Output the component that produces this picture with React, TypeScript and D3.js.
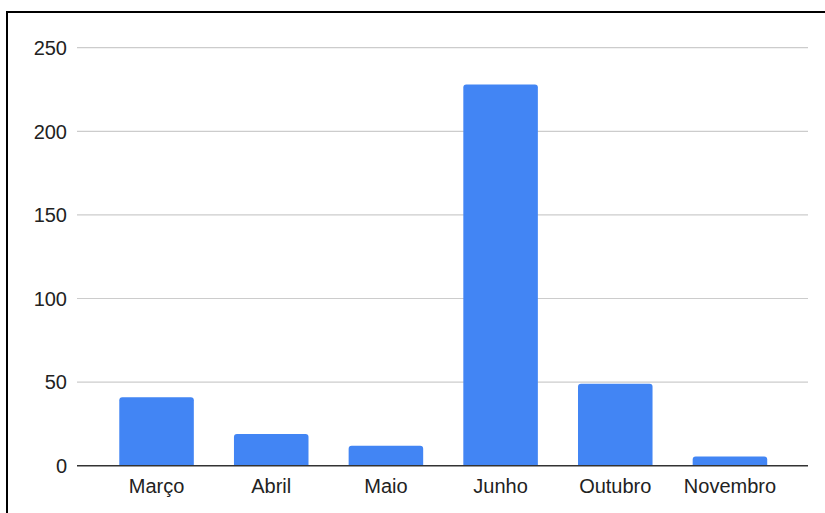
import React from "react";
import * as d3 from "d3";

const categories = ["Março", "Abril", "Maio", "Junho", "Outubro", "Novembro"];
const values = [41, 19, 12, 228, 49, 5.5];
const yTicks = [0, 50, 100, 150, 200, 250];

const W = 825;
const H = 513;
const left = 77;
const right = 808;
const top = 47.7;
const bottom = 465.7;

export default function App() {
  const x = d3
    .scaleBand<string>()
    .domain(categories)
    .range([left + 1, right + 0.5])
    .paddingInner(0.35)
    .paddingOuter(0.36);
  const y = d3.scaleLinear().domain([0, 250]).range([bottom, top]);
  const r = 3;
  const bw = x.bandwidth();
  const font = "Arial, 'Liberation Sans', sans-serif";

  const barPath = (cx: number, yt: number) => {
    const rr = Math.min(r, (bottom - yt) / 2);
    return `M${cx},${bottom}V${yt + rr}Q${cx},${yt} ${cx + rr},${yt}H${cx + bw - rr}Q${cx + bw},${yt} ${cx + bw},${yt + rr}V${bottom}Z`;
  };

  return (
    <svg
      width={W}
      height={H}
      style={{ position: "absolute", left: 0, top: 0, background: "#fff" }}
    >
      <rect x={0} y={0} width={W} height={H} fill="#fff" />
      <line x1={7} x2={7} y1={11} y2={H} stroke="#000" strokeWidth={2} />
      <line x1={6} x2={W} y1={12} y2={12} stroke="#000" strokeWidth={2} />
      {yTicks.map((t) => (
        <g key={t}>
          {t !== 0 && (
            <line
              x1={left}
              x2={right}
              y1={y(t)}
              y2={y(t)}
              stroke="#cccccc"
              strokeWidth={1.2}
            />
          )}
          <text
            x={67}
            y={y(t)}
            dy="0.36em"
            textAnchor="end"
            fontFamily={font}
            fontSize={20}
            fill="#222"
          >
            {t}
          </text>
        </g>
      ))}
      {categories.map((c, i) => (
        <path key={c} d={barPath(x(c)!, y(values[i]))} fill="#4285f4" />
      ))}
      <line
        x1={left}
        x2={right}
        y1={bottom}
        y2={bottom}
        stroke="#333"
        strokeWidth={1.5}
      />
      {categories.map((c) => (
        <text
          key={c}
          x={x(c)! + bw / 2}
          y={492.5}
          textAnchor="middle"
          fontFamily={font}
          fontSize={20}
          fill="#222"
        >
          {c}
        </text>
      ))}
    </svg>
  );
}
